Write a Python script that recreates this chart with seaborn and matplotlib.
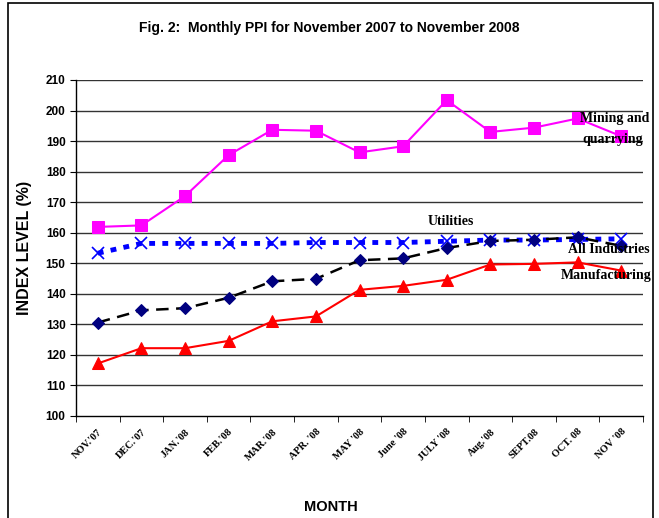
import matplotlib
matplotlib.use("Agg")
import matplotlib.pyplot as plt
import seaborn as sns
import pandas as pd
import numpy as np
from matplotlib.patches import Rectangle
from matplotlib.ticker import MultipleLocator, FixedLocator

months = ["NOV.'07", "DEC.'07", "JAN.'08", "FEB.'08", "MAR.'08", "APR. '08", "MAY '08",
          "June '08", "JULY '08", "Aug.'08", "SEPT.08", "OCT. 08", "NOV '08"]
mining = [161.9, 162.4, 172.0, 185.4, 193.7, 193.4, 186.3, 188.3, 203.4, 193.0, 194.4, 197.4, 191.6]
utilities = [153.3, 156.5, 156.5, 156.5, 156.5, 156.8, 156.8, 156.8, 157.2, 157.6, 157.6, 157.8, 158.0]
all_ind = [130.6, 134.6, 135.3, 138.7, 144.1, 144.9, 151.0, 151.6, 155.0, 157.3, 157.7, 158.5, 155.7]
manuf = [117.2, 122.2, 122.2, 124.6, 131.0, 132.6, 141.3, 142.6, 144.6, 149.6, 149.8, 150.3, 147.6]

df = pd.DataFrame({"month": months, "Mining and quarrying": mining, "Utilities": utilities,
                   "All Industries": all_ind, "Manufacturing": manuf})
df["pos"] = np.arange(len(months))

sns.set_style("white")
plt.rcParams['font.family'] = ['Liberation Sans', 'DejaVu Sans']
plt.rcParams['text.color'] = 'black'
plt.rcParams['axes.labelcolor'] = 'black'
plt.rcParams['xtick.color'] = 'black'
plt.rcParams['ytick.color'] = 'black'

fig = plt.figure(figsize=(6.59, 5.18), dpi=100)
ax = fig.add_axes([76/659, 1-416/518, (643-76)/659, (416-80)/518])

for y in range(110, 211, 10):
    ax.axhline(y, color="#333333", lw=1.0, zorder=0)

sns.lineplot(data=df, x="pos", y="Mining and quarrying", ax=ax, color="#FF00FF", lw=1.5,
             marker="s", markersize=8, markeredgecolor="#FF00FF")
sns.lineplot(data=df, x="pos", y="Utilities", ax=ax, color="#0000FF", lw=3.5,
             linestyle=(0, (1.2, 1.5)), marker="x", markersize=8, markeredgewidth=1.2,
             markeredgecolor="#0000FF")
sns.lineplot(data=df, x="pos", y="All Industries", ax=ax, color="black", lw=1.8,
             linestyle=(0, (5, 3)), marker="D", markersize=6.5, markerfacecolor="#000080",
             markeredgecolor="#000080")
sns.lineplot(data=df, x="pos", y="Manufacturing", ax=ax, color="#FF0000", lw=1.5,
             marker="^", markersize=8, markeredgecolor="#FF0000")

ax.set_xlim(-0.5, 12.5)
ax.set_ylim(100, 210)
ax.yaxis.set_major_locator(MultipleLocator(10))
ax.set_xticks(np.arange(len(months)))
ax.set_xticklabels(months, rotation=45, ha="right", rotation_mode="anchor",
                   fontfamily="Liberation Serif", fontweight="bold", fontsize=7.5)
ax.xaxis.set_minor_locator(FixedLocator(np.arange(-0.5, 13, 1)))
ax.tick_params(axis="x", which="major", length=0, pad=8)
ax.tick_params(axis="x", which="minor", length=4, direction="out", color="black", bottom=True)
ax.tick_params(axis="y", length=4, direction="out", color="black", left=True, labelsize=8.5)
for lab in ax.get_yticklabels():
    lab.set_fontweight("bold")

for s in ["top", "right"]:
    ax.spines[s].set_visible(False)
for s in ["left", "bottom"]:
    ax.spines[s].set_color("black")
    ax.spines[s].set_linewidth(1.0)

ax.set_xlabel("MONTH", fontweight="bold", fontsize=10.5)
ax.set_ylabel("INDEX LEVEL (%)", fontweight="bold", fontsize=11.5)
ax.xaxis.set_label_coords(0.45, -0.25)
ax.yaxis.set_label_coords(-0.078, 0.5)

fig.text(0.5, 1-28/518, "Fig. 2:  Monthly PPI for November 2007 to November 2008",
         ha="center", va="center", fontweight="bold", fontsize=10)

serif = dict(fontfamily="Liberation Serif", fontweight="bold", fontsize=10, ha="right", va="center")
ax.text(12.65, 197.3, "Mining and", **serif)
ax.text(12.5, 190.5, "quarrying", **serif)
ax.text(8.1, 163.8, "Utilities", fontfamily="Liberation Serif", fontweight="bold", fontsize=10,
        ha="center", va="center")
ax.text(12.65, 154.5, "All Industries", **serif)
ax.text(12.7, 146.0, "Manufacturing", **serif)

fig.patches.append(Rectangle((8/659, -0.01), (653-8)/659, 1-3/518+0.01, transform=fig.transFigure,
                             fill=False, edgecolor="black", lw=1.2))

fig.savefig("out.png", dpi=100)
